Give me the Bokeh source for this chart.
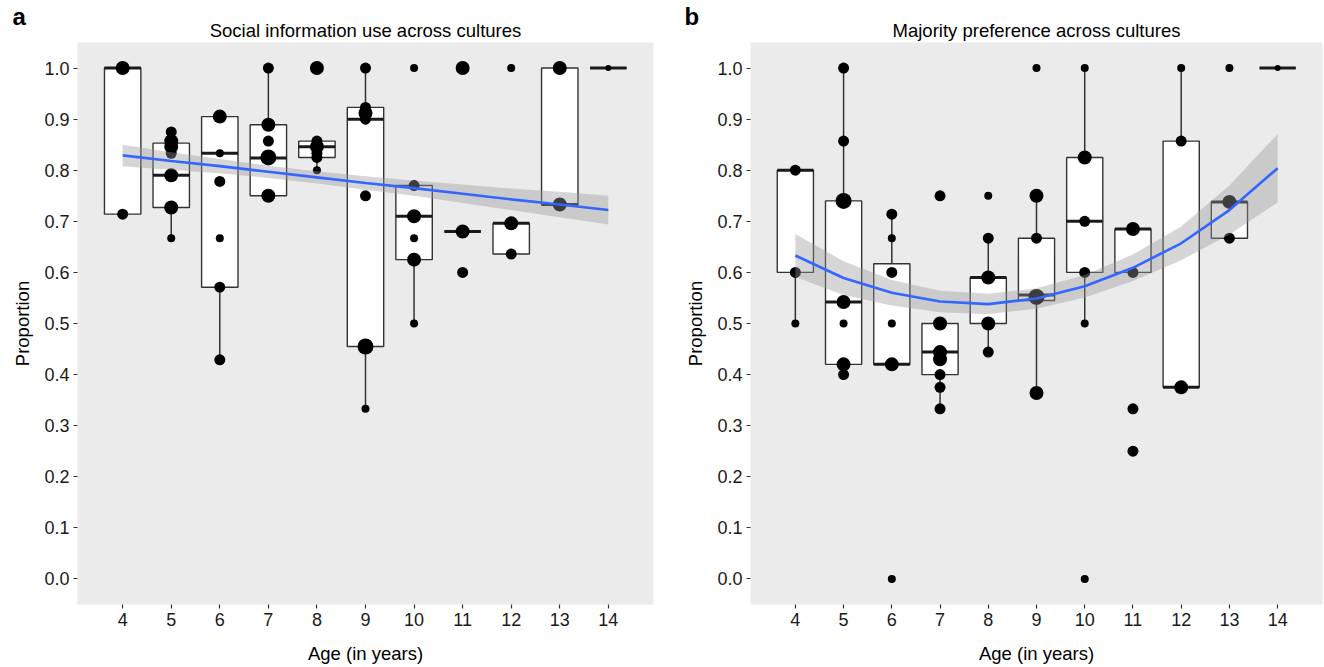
import numpy as np
from bokeh.plotting import figure
from bokeh.layouts import row
from bokeh.models import FixedTicker, NumeralTickFormatter, Title
from bokeh.embed import file_html
from bokeh.resources import INLINE

FONT = "Liberation Sans"

# ---------------- data ----------------
ages = [4, 5, 6, 7, 8, 9, 10, 11, 12, 13, 14]
y_ticks = [0.0, 0.1, 0.2, 0.3, 0.4, 0.5, 0.6, 0.7, 0.8, 0.9, 1.0]

# Panel a: Social information use (box statistics per age)
a_q1 = [0.714, 0.727, 0.571, 0.750, 0.825, 0.455, 0.625, 0.680, 0.636, 0.733, 1.0]
a_med = [1.000, 0.790, 0.833, 0.824, 0.846, 0.900, 0.710, 0.680, 0.696, 0.733, 1.0]
a_q3 = [1.000, 0.853, 0.905, 0.889, 0.857, 0.923, 0.770, 0.680, 0.696, 1.000, 1.0]
a_lo = [0.714, 0.667, 0.429, 0.750, 0.800, 0.333, 0.500, 0.680, 0.636, 0.733, 1.0]
a_hi = [1.000, 0.875, 0.905, 1.000, 0.857, 1.000, 0.770, 0.680, 0.696, 1.000, 1.0]

a_pt_age = [4, 4,
            5, 5, 5, 5, 5, 5, 5,
            6, 6, 6, 6, 6, 6,
            7, 7, 7, 7, 7,
            8, 8, 8, 8, 8, 8,
            9, 9, 9, 9, 9, 9, 9,
            10, 10, 10, 10, 10, 10,
            11, 11, 11,
            12, 12, 12,
            13, 13,
            14]
a_pt_val = [1.0, 0.714,
            0.875, 0.857, 0.846, 0.833, 0.790, 0.727, 0.667,
            0.905, 0.833, 0.778, 0.667, 0.571, 0.429,
            1.0, 0.889, 0.857, 0.825, 0.750,
            1.0, 0.857, 0.846, 0.833, 0.825, 0.800,
            1.0, 0.923, 0.912, 0.900, 0.750, 0.455, 0.333,
            1.0, 0.770, 0.710, 0.667, 0.625, 0.500,
            1.0, 0.680, 0.600,
            1.0, 0.696, 0.636,
            1.0, 0.733,
            1.0]
a_pt_n = [3, 2,
          2, 3, 3, 2, 3, 3, 1,
          3, 1, 2, 1, 2, 2,
          2, 3, 2, 4, 3,
          3, 2, 3, 2, 2, 1,
          2, 2, 3, 2, 2, 4, 1,
          1, 2, 3, 1, 3, 1,
          3, 3, 2,
          1, 3, 2,
          3, 3,
          0]

a_fit_y = [0.829, 0.818, 0.808, 0.797, 0.786, 0.775, 0.765, 0.754, 0.743, 0.733, 0.722]
a_fit_lo = [0.808, 0.801, 0.794, 0.785, 0.774, 0.762, 0.750, 0.736, 0.722, 0.708, 0.694]
a_fit_hi = [0.850, 0.835, 0.822, 0.809, 0.798, 0.788, 0.780, 0.772, 0.764, 0.758, 0.750]

# Panel b: Majority preference
b_q1 = [0.600, 0.420, 0.420, 0.400, 0.500, 0.545, 0.600, 0.600, 0.375, 0.667, 1.0]
b_med = [0.800, 0.542, 0.420, 0.444, 0.590, 0.556, 0.700, 0.685, 0.375, 0.738, 1.0]
b_q3 = [0.800, 0.740, 0.617, 0.500, 0.590, 0.667, 0.825, 0.685, 0.857, 0.738, 1.0]
b_lo = [0.500, 0.400, 0.420, 0.333, 0.444, 0.364, 0.500, 0.600, 0.375, 0.667, 1.0]
b_hi = [0.800, 1.000, 0.714, 0.500, 0.667, 0.750, 1.000, 0.685, 1.000, 0.738, 1.0]

b_pt_age = [4, 4, 4,
            5, 5, 5, 5, 5, 5, 5,
            6, 6, 6, 6, 6, 6,
            7, 7, 7, 7, 7, 7, 7,
            8, 8, 8, 8, 8,
            9, 9, 9, 9, 9,
            10, 10, 10, 10, 10, 10,
            11, 11, 11, 11,
            12, 12, 12,
            13, 13, 13,
            14]
b_pt_val = [0.800, 0.600, 0.500,
            1.0, 0.857, 0.740, 0.542, 0.500, 0.420, 0.400,
            0.714, 0.667, 0.600, 0.500, 0.420, 0.0,
            0.750, 0.500, 0.444, 0.430, 0.400, 0.375, 0.333,
            0.750, 0.667, 0.590, 0.500, 0.444,
            1.0, 0.750, 0.667, 0.552, 0.364,
            1.0, 0.825, 0.700, 0.600, 0.500, 0.0,
            0.685, 0.600, 0.333, 0.250,
            1.0, 0.857, 0.375,
            1.0, 0.738, 0.667,
            1.0]
b_pt_n = [2, 2, 1,
          2, 2, 4, 3, 1, 3, 2,
          2, 1, 2, 1, 3, 1,
          2, 3, 3, 3, 2, 2, 2,
          1, 2, 3, 3, 2,
          1, 3, 2, 4, 3,
          1, 3, 2, 2, 1, 1,
          3, 2, 2, 2,
          1, 2, 3,
          1, 3, 2,
          0]

b_fit_y = [0.633, 0.589, 0.560, 0.543, 0.538, 0.549, 0.573, 0.609, 0.657, 0.722, 0.804]
b_fit_lo = [0.591, 0.556, 0.535, 0.522, 0.518, 0.529, 0.551, 0.583, 0.624, 0.674, 0.737]
b_fit_hi = [0.675, 0.622, 0.585, 0.564, 0.558, 0.569, 0.595, 0.635, 0.690, 0.770, 0.871]

SIZE_PX = {0: 6, 1: 8, 2: 11, 3: 14, 4: 16}
BOX_W = 0.75


def make_panel(title, letter, letter_offset, q1, med, q3, lo, hi,
               pt_age, pt_val, pt_n, fit_y, fit_lo, fit_hi,
               width, border_left, border_right):
    p = figure(width=width, height=667, x_range=(3.07, 14.93), y_range=(-0.05, 1.05),
               output_backend="svg", toolbar_location=None, title=None,
               min_border_left=border_left, min_border_right=border_right,
               min_border_top=42, min_border_bottom=63,
               background_fill_color="#EBEBEB", border_fill_color="white",
               outline_line_color=None)
    p.grid.visible = False

    # main title (closest to the frame), then the panel letter stacked above it
    p.add_layout(Title(text=title, align="center", text_font=FONT,
                       text_font_size="18.5px", text_font_style="normal",
                       text_color="#000000", standoff=4), "above")
    p.add_layout(Title(text=letter, align="left", offset=letter_offset, standoff=-28,
                       text_font=FONT, text_font_size="24px", text_font_style="bold",
                       text_color="#000000"), "above")

    for ax in (p.xaxis[0], p.yaxis[0]):
        ax.axis_line_color = None
        ax.major_tick_line_color = "#333333"
        ax.major_tick_line_width = 1.2
        ax.major_tick_out = 4
        ax.major_tick_in = 0
        ax.minor_tick_line_color = None
        ax.major_label_text_font = FONT
        ax.major_label_text_font_size = "18px"
        ax.major_label_text_color = "#1A1A1A"
        ax.major_label_standoff = 4
        ax.axis_label_text_font = FONT
        ax.axis_label_text_font_size = "18.5px"
        ax.axis_label_text_font_style = "normal"
        ax.axis_label_text_color = "#000000"
    p.xaxis.ticker = FixedTicker(ticks=ages)
    p.yaxis.ticker = FixedTicker(ticks=y_ticks)
    p.yaxis.formatter = NumeralTickFormatter(format="0.0")
    p.xaxis.axis_label = "Age (in years)"
    p.yaxis.axis_label = "Proportion"
    p.xaxis.axis_label_standoff = 14
    p.yaxis.axis_label_standoff = 8

    ages_arr = np.array(ages, dtype=float)
    # whiskers
    p.segment(x0=ages, y0=q3, x1=ages, y1=hi, line_color="#333333", line_width=1.5)
    p.segment(x0=ages, y0=q1, x1=ages, y1=lo, line_color="#333333", line_width=1.5)
    # boxes
    p.vbar(x=ages, width=BOX_W, bottom=q1, top=q3, fill_color="white",
           line_color="#333333", line_width=1.4)
    # medians
    p.segment(x0=ages_arr - BOX_W / 2, y0=med, x1=ages_arr + BOX_W / 2, y1=med,
              line_color="#1A1A1A", line_width=3)
    # points
    sizes = [SIZE_PX[n] for n in pt_n]
    p.scatter(x=pt_age, y=pt_val, size=sizes, fill_color="black", line_color=None)
    # smooth ribbon + line
    p.varea(x=ages, y1=fit_lo, y2=fit_hi, fill_color="#999999", fill_alpha=0.4)
    p.line(x=ages, y=fit_y, line_color="#3366FF", line_width=2.6)
    return p


pa = make_panel("Social information use across cultures", "a", -65,
                a_q1, a_med, a_q3, a_lo, a_hi, a_pt_age, a_pt_val, a_pt_n,
                a_fit_y, a_fit_lo, a_fit_hi, width=662, border_left=77, border_right=9)
pb = make_panel("Majority preference across cultures", "b", -66,
                b_q1, b_med, b_q3, b_lo, b_hi, b_pt_age, b_pt_val, b_pt_n,
                b_fit_y, b_fit_lo, b_fit_hi, width=662, border_left=88, border_right=2)

layout = row(pa, pb)
open("out.html", "w").write(file_html(layout, INLINE))
